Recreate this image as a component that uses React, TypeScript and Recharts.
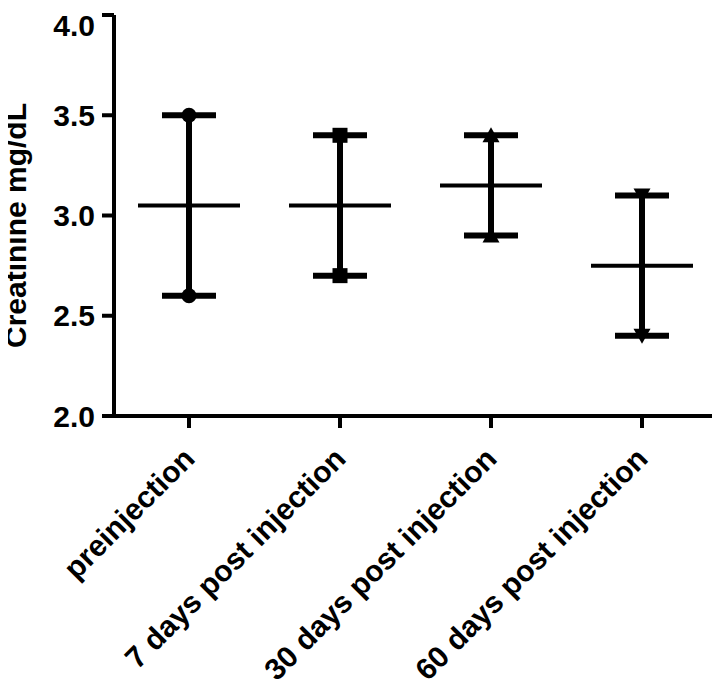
import React from 'react';
import { ComposedChart, Scatter, ErrorBar, XAxis, YAxis, Label } from 'recharts';

// values
const categories = ['preinjection', '7 days post injection', '30 days post injection', '60 days post injection'];
const lowValues = [2.6, 2.7, 2.9, 2.4];
const highValues = [3.5, 3.4, 3.4, 3.1];
const meanValues = [3.05, 3.05, 3.15, 2.75];
const yTicks = [2.0, 2.5, 3.0, 3.5, 4.0];

// one marker per group, like the original
const markerTypes = ['circle', 'square', 'triangle', 'triangleDown'];

const data = categories.map((name, i) => ({
  name,
  mean: meanValues[i],
  low: lowValues[i],
  high: highValues[i],
  err: [meanValues[i] - lowValues[i], highValues[i] - meanValues[i]],
}));

const FONT = '"Liberation Sans", Arial, sans-serif';

const Marker = (props: any) => {
  const { cx, cy, payload } = props;
  const type = markerTypes[categories.indexOf(payload.name)];
  if (type === 'circle') return <circle cx={cx} cy={cy} r={7.5} fill="#000" />;
  if (type === 'square') return <rect x={cx - 7.5} y={cy - 7.5} width={15} height={15} fill="#000" />;
  if (type === 'triangle') return <path d={`M${cx},${cy - 8} L${cx + 8.5},${cy + 7} L${cx - 8.5},${cy + 7} Z`} fill="#000" />;
  return <path d={`M${cx},${cy + 8} L${cx + 8.5},${cy - 7} L${cx - 8.5},${cy - 7} Z`} fill="#000" />;
};

const MeanLine = (props: any) => (
  <line x1={props.cx - 51} x2={props.cx + 51} y1={props.cy} y2={props.cy} stroke="#000" strokeWidth={4} />
);

const XTick = (props: any) => {
  const { x, y, payload } = props;
  return (
    <g transform={`translate(${x},${y + 23})`}>
      <text
        x={0}
        y={0}
        dy="0.35em"
        textAnchor="end"
        transform="rotate(-45)"
        fontFamily={FONT}
        fontWeight="bold"
        fontSize={30}
        fill="#000"
      >
        {payload.value}
      </text>
    </g>
  );
};

const YLabel = (props: any) => {
  const { viewBox } = props;
  const cx = viewBox.x + 7;
  const cy = viewBox.y + viewBox.height / 2 + 10;
  return (
    <text
      transform={`translate(${cx},${cy}) rotate(-90)`}
      textAnchor="middle"
      dy="0.35em"
      fontFamily={FONT}
      fontWeight="bold"
      fontSize={30}
      fill="#000"
    >
      Creatinine mg/dL
    </text>
  );
};

export default function App() {
  return (
    <ComposedChart width={712} height={674} data={data} margin={{ top: 7, right: 3, bottom: 0, left: 0 }}>
      <XAxis
        dataKey="name"
        type="category"
        height={266}
        padding={{ left: 75, right: 75 }}
        tickSize={12}
        axisLine={{ stroke: '#000', strokeWidth: 4 }}
        tickLine={{ stroke: '#000', strokeWidth: 4 }}
        tick={<XTick />}
        interval={0}
      />
      <YAxis
        type="number"
        domain={[2, 4]}
        ticks={yTicks}
        width={106}
        tickSize={12}
        tickMargin={7}
        tickFormatter={(v: number) => v.toFixed(1)}
        axisLine={{ stroke: '#000', strokeWidth: 4 }}
        tickLine={{ stroke: '#000', strokeWidth: 4 }}
        tick={{ fill: '#000', fontFamily: FONT, fontWeight: 'bold', fontSize: 30 }}
      >
        <Label content={<YLabel />} />
      </YAxis>
      <Scatter dataKey="mean" shape={<MeanLine />} isAnimationActive={false}>
        <ErrorBar dataKey="err" direction="y" width={27} stroke="#000" strokeWidth={6} isAnimationActive={false} />
      </Scatter>
      <Scatter dataKey="low" shape={<Marker />} isAnimationActive={false} />
      <Scatter dataKey="high" shape={<Marker />} isAnimationActive={false} />
    </ComposedChart>
  );
}
